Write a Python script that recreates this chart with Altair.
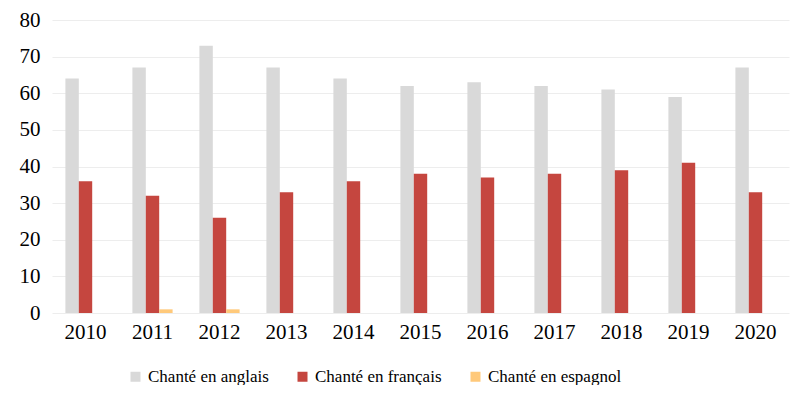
import altair as alt
import pandas as pd

years = ["2010", "2011", "2012", "2013", "2014", "2015", "2016", "2017", "2018", "2019", "2020"]
series = ["Chanté en anglais", "Chanté en français", "Chanté en espagnol"]
anglais = [64, 67, 73, 67, 64, 62, 63, 62, 61, 59, 67]
francais = [36, 32, 26, 33, 36, 38, 37, 38, 39, 41, 33]
espagnol = [0, 1, 1, 0, 0, 0, 0, 0, 0, 0, 0]
colors = ["#D9D9D9", "#C5463F", "#FFC97A"]

rows = []
for vals, name in zip([anglais, francais, espagnol], series):
    for y, v in zip(years, vals):
        rows.append({"year": y, "series": name, "value": v})
df = pd.DataFrame(rows)

font = "Liberation Serif"

chart = alt.Chart(df).mark_bar().encode(
    x=alt.X("year:N", sort=years, title=None,
            scale=alt.Scale(paddingInner=0.4, paddingOuter=0.2),
            axis=alt.Axis(labelAngle=0, labelFont=font, labelFontSize=21, labelColor="#000000",
                          domain=False, ticks=False, labelPadding=8)),
    xOffset=alt.XOffset("series:N", sort=series,
                        scale=alt.Scale(paddingInner=0, paddingOuter=0)),
    y=alt.Y("value:Q", title=None,
            scale=alt.Scale(domain=[0, 80], nice=False),
            axis=alt.Axis(values=[0, 10, 20, 30, 40, 50, 60, 70, 80], labelFont=font,
                          labelFontSize=21, labelColor="#000000", domain=False, ticks=False,
                          gridColor="#EDEDED", gridWidth=1, labelPadding=12)),
    color=alt.Color("series:N", sort=series,
                    scale=alt.Scale(domain=series, range=colors),
                    legend=alt.Legend(title=None, orient="none", direction="horizontal",
                                      legendX=75, legendY=348, symbolType="square",
                                      symbolSize=100, symbolStrokeWidth=0,
                                      labelFontSize=17, labelColor="#000000",
                                      columnPadding=25, labelOffset=4)),
).properties(
    width=737, height=293,
    autosize=alt.AutoSizeParams(type="none"),
    padding={"left": 44, "top": 12, "right": 3, "bottom": 72},
).configure(font=font).configure_legend(labelFont=font).configure_view(stroke=None)

chart.save("out.html", embed_options={"renderer": "svg", "actions": False})
